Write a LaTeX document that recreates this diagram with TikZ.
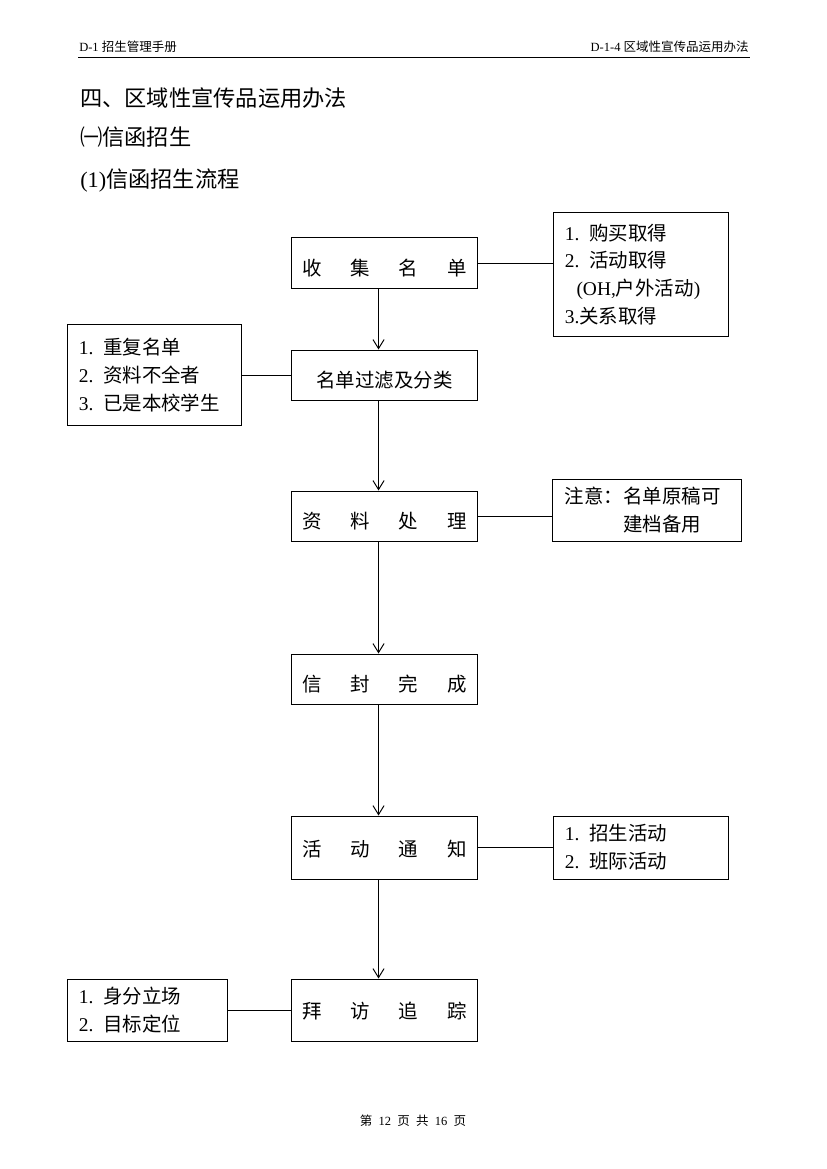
\documentclass[tikz,border=0pt]{standalone}
\usepackage{fontspec}
\setmainfont{Liberation Serif}
\newfontfamily\cjk{Noto Sans CJK SC}
\usetikzlibrary{arrows.meta}
\newcommand\zh[1]{{\cjk #1}}
\newcommand\wide[1]{\makebox[118pt][s]{\cjk #1}}

\begin{document}
\begin{tikzpicture}[
  x=0.7195pt, y=-0.7195pt,
  mainbox/.style={draw, line width=0.7pt, minimum width=134.5pt, minimum height=36pt, inner sep=0pt,
    text height=18pt, text depth=0pt, font=\fontsize{14pt}{20pt}\selectfont},
  sidebox/.style={draw, line width=0.7pt, align=left, inner xsep=8.5pt, inner ysep=0pt,
    font=\fontsize{14pt}{20pt}\selectfont},
  arr/.style={-{Straight Barb[length=6.5pt, width=8pt]}, line width=0.7pt},
  link/.style={line width=0.7pt},
  small/.style={inner sep=0pt, font=\fontsize{9pt}{11pt}\selectfont},
  heading/.style={anchor=west, inner sep=0pt, font=\fontsize{16pt}{19pt}\selectfont}
]
\fill[white] (0,0) rectangle (827,1169);
\useasboundingbox (0,0) rectangle (827,1169);

% page header and titles
\node[small, anchor=west] (hleft) at (79,47) {D-1 \zh{招生管理手册}};
\node[small, anchor=east] (hright) at (749,47) {D-1-4 \zh{区域性宣传品运用办法}};
\draw[link] (78,57) -- (750,57);
\node[heading] (title) at (80,98) {\zh{四、区域性宣传品运用办法}};
\node[heading] (sub) at (80,137) {\zh{㈠信函招生}};
\node[heading] (flow) at (80,181) {(1)\zh{信函招生流程}};

% main steps
\node[mainbox] (collect) at (384.5,263) {\wide{收\hfill 集\hfill 名\hfill 单}};
\node[mainbox] (filter) at (384.5,375) {\zh{名单过滤及分类}};
\node[mainbox] (process) at (384.5,516) {\wide{资\hfill 料\hfill 处\hfill 理}};
\node[mainbox] (envelope) at (384.5,679) {\wide{信\hfill 封\hfill 完\hfill 成}};
\node[mainbox, minimum height=45.3pt, text height=12.8pt] (notify) at (384.5,847.5) {\wide{活\hfill 动\hfill 通\hfill 知}};
\node[mainbox, minimum height=44.6pt, text height=12.8pt] (visit) at (384.5,1010) {\wide{拜\hfill 访\hfill 追\hfill 踪}};

% side notes
\node[sidebox, text width=108.9pt, minimum height=89.9pt] (buy) at (640.5,274.5)
  {1.\enspace\zh{购买取得}\\2.\enspace\zh{活动取得}\\\hspace*{0.6em}(OH,\zh{户外活动})\\3.\zh{关系取得}};
\node[sidebox, text width=108.2pt, minimum height=72pt] (dup) at (154,375)
  {1.\enspace\zh{重复名单}\\2.\enspace\zh{资料不全者}\\3.\enspace\zh{已是本校学生}};
\node[sidebox, text width=118.3pt, minimum height=44.6pt] (note) at (647,510)
  {\zh{注意：名单原稿可}\\\hspace*{3em}\zh{建档备用}};
\node[sidebox, text width=108.9pt, minimum height=45.3pt] (event) at (640.5,847.5)
  {1.\enspace\zh{招生活动}\\2.\enspace\zh{班际活动}};
\node[sidebox, text width=98.8pt, minimum height=44.6pt] (pos) at (147.5,1010)
  {1.\enspace\zh{身分立场}\\2.\enspace\zh{目标定位}};

\node[small] (foot) at (413,1121) {\zh{第}\enspace 12\enspace\zh{页}\enspace\zh{共}\enspace 16\enspace\zh{页}};

\draw[arr] ([xshift=-4.3pt]collect.south) -- ([xshift=-4.3pt]filter.north);
\draw[arr] ([xshift=-4.3pt]filter.south) -- ([xshift=-4.3pt]process.north);
\draw[arr] ([xshift=-4.3pt]process.south) -- ([xshift=-4.3pt]envelope.north);
\draw[arr] ([xshift=-4.3pt]envelope.south) -- ([xshift=-4.3pt]notify.north);
\draw[arr] ([xshift=-4.3pt]notify.south) -- ([xshift=-4.3pt]visit.north);

\draw[link] (collect.east) -- (collect.east -| buy.west);
\draw[link] (filter.west) -- (filter.west -| dup.east);
\draw[link] (process.east) -- (process.east -| note.west);
\draw[link] (notify.east) -- (notify.east -| event.west);
\draw[link] (visit.west) -- (visit.west -| pos.east);
\end{tikzpicture}
\end{document}
